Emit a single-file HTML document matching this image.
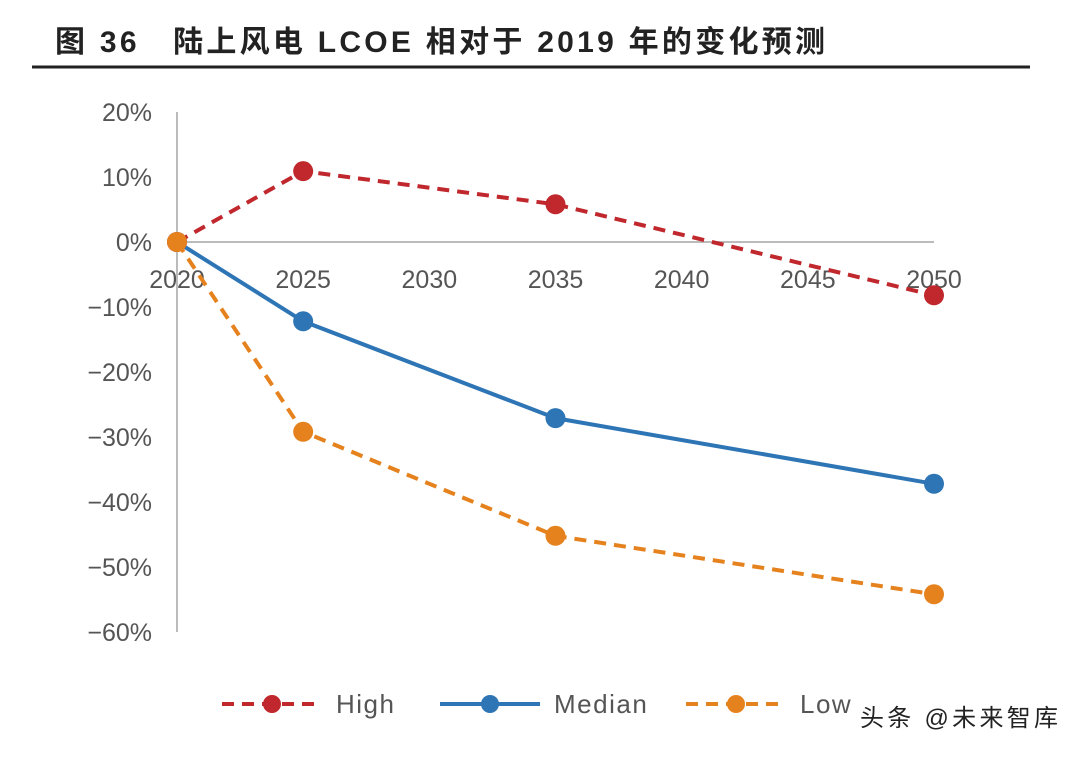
<!DOCTYPE html>
<html><head><meta charset="utf-8"><style>
body{margin:0;width:1080px;height:753px;background:#fff;overflow:hidden;font-family:"Liberation Sans","Noto Sans CJK SC",sans-serif}
</style></head><body>
<svg id="chart" width="1080" height="753" xmlns="http://www.w3.org/2000/svg">
<text x="55" y="52" font-size="30" font-weight="bold" fill="#222" font-family="Liberation Sans,Noto Sans CJK SC,sans-serif" textLength="770" lengthAdjust="spacing">图 36　陆上风电 LCOE 相对于 2019 年的变化预测</text>
<line x1="32" y1="67" x2="1030" y2="67" stroke="#222" stroke-width="3"/>
<g id="axes"></g>
<g id="series"></g>
<g id="legend"></g>
<text x="860" y="726" font-size="24" fill="#222" font-family="Liberation Sans,Noto Sans CJK SC,sans-serif" textLength="198" lengthAdjust="spacing">头条 @未来智库</text>
</svg>
<script>
const years=[2020,2025,2030,2035,2040,2045,2050];
const yTicks=[20,10,0,-10,-20,-30,-40,-50,-60];
const highX=[2020,2025,2035,2050];
const highV=[0,10.9,5.8,-8.2];
const medianV=[0,-12.2,-27.1,-37.2];
const lowV=[0,-29.2,-45.2,-54.2];
const NS="http://www.w3.org/2000/svg";
const sx=y=>177+(y-2020)*(934-177)/30;
const sy=v=>242-v*6.5;
function el(tag,attrs,parent){const e=document.createElementNS(NS,tag);for(const k in attrs)e.setAttribute(k,attrs[k]);parent.appendChild(e);return e;}
const axes=document.getElementById('axes');
let a=el('line',{x1:177,y1:sy(20),x2:177,y2:sy(-60),stroke:'#bbb','stroke-width':2},axes);


let z=el('line',{x1:177,y1:sy(0),x2:934,y2:sy(0),stroke:'#bbb','stroke-width':2},axes);


yTicks.forEach(t=>{const e=el('text',{x:152,y:sy(t)+9,'text-anchor':'end','font-size':25,fill:'#555'},axes);e.textContent=(t<0?'−':'')+Math.abs(t)+'%';

});
years.forEach(y=>{const e=el('text',{x:sx(y),y:288,'text-anchor':'middle','font-size':25,fill:'#555'},axes);e.textContent=y;

});
const ser=document.getElementById('series');
function draw(vals,color,dash,name){
 const g=el('g',{},ser);
 
 
 const p=el('polyline',{points:vals.map((v,i)=>sx(highX[i])+','+sy(v)).join(' '),fill:'none',stroke:color,'stroke-width':4,'stroke-dasharray':dash},g);
 
 
 vals.forEach((v,i)=>{const c=el('circle',{cx:sx(highX[i]),cy:sy(v),r:10,fill:color},g);
 
 });
}
draw(medianV,'#2e75b6','none','median');
draw(highV,'#c0282d','12 8','high');
draw(lowV,'#e6821e','12 8','low');
const lg=document.getElementById('legend');
[['High','#c0282d','12 8',222],['Median','#2e75b6','none',440],['Low','#e6821e','12 8',686]].forEach(([n,c,d,x])=>{
 const g=el('g',{},lg);
 
 
 el('line',{x1:x,y1:704,x2:x+100,y2:704,stroke:c,'stroke-width':4,'stroke-dasharray':d},g);
 el('circle',{cx:x+50,cy:704,r:9,fill:c},g);
 const t=el('text',{x:x+114,y:713,'font-size':26,fill:'#555','letter-spacing':1.5},g);t.textContent=n;
});
</script>
</body></html>
